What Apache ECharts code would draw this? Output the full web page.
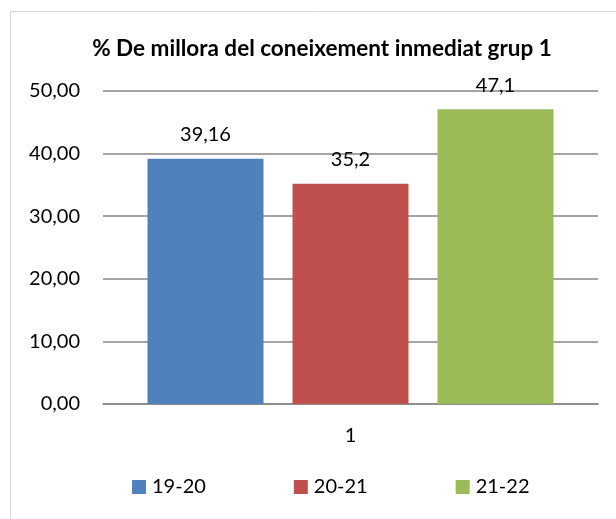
<!DOCTYPE html>
<html>
<head>
<meta charset="utf-8">
<script src="https://cdn.jsdelivr.net/npm/echarts@6/dist/echarts.min.js"></script>
<style>
  html, body { margin: 0; padding: 0; background: #fff; }
  #main { width: 616px; height: 519px; }
</style>
</head>
<body>
<div id="main"></div>
<script>
  var categories = ['1'];
  var seriesNames = ['19-20', '20-21', '21-22'];
  var seriesValues = [[39.16], [35.2], [47.1]];
  var seriesColors = ['#4F81BD', '#C0504D', '#9BBB59'];

  var font = 'Lato, "Open Sans", sans-serif';

  var chart = echarts.init(document.getElementById('main'));

  var series = seriesNames.map(function (name, i) {
    return {
      name: name,
      type: 'bar',
      data: seriesValues[i],
      barWidth: 116,
      barGap: '25%',
      itemStyle: { color: seriesColors[i] },
      label: {
        show: true,
        position: 'top',
        distance: 14,
        color: '#000',
        fontFamily: font,
        fontSize: 20,
        formatter: function (p) { return String(p.value).replace('.', ','); }
      }
    };
  });

  chart.setOption({
    animation: false,
    graphic: [{
      type: 'rect',
      left: 8, top: 9,
      shape: { width: 620, height: 520 },
      style: { fill: 'none', stroke: '#d9d9d9', lineWidth: 1 }
    }],
    title: {
      text: '% De millora del coneixement inmediat grup 1',
      left: 317, textAlign: 'center',
      top: 32,
      textStyle: { fontFamily: font, fontWeight: 'bold', fontSize: 22.5, color: '#000' }
    },
    legend: {
      top: 477,
      left: 132,
      padding: 0,
      itemWidth: 14,
      itemHeight: 14,
      itemGap: 88,
      icon: 'rect',
      textStyle: { fontFamily: font, fontSize: 20, color: '#000', padding: [0, 0, 0, 1] },
      data: seriesNames
    },
    grid: { left: 103, right: 18, top: 91, bottom: 115 },
    xAxis: {
      type: 'category',
      data: categories,
      axisLine: { lineStyle: { color: '#868686', width: 1.5 } },
      axisTick: { show: false },
      axisLabel: { margin: 22, fontFamily: font, fontSize: 20, color: '#000' }
    },
    yAxis: {
      type: 'value',
      min: 0, max: 50, interval: 10,
      axisLine: { show: false },
      axisTick: { show: false },
      splitLine: { lineStyle: { color: '#868686', width: 1.5 } },
      axisLabel: {
        margin: 23, fontFamily: font, fontSize: 20, color: '#000',
        formatter: function (v) { return v.toFixed(2).replace('.', ','); }
      }
    },
    series: series
  });
</script>
</body>
</html>
